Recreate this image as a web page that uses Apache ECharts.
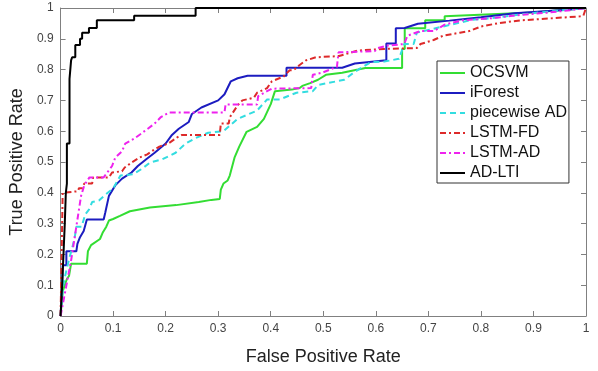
<!DOCTYPE html>
<html>
<head>
<meta charset="utf-8">
<script src="https://cdn.jsdelivr.net/npm/echarts@6/dist/echarts.min.js"></script>
<style>
  html, body { margin: 0; padding: 0; background: #fff; }
  #chart { width: 598px; height: 371px; }
</style>
</head>
<body>
<div id="chart"></div>
<script>
// ROC curves, [fpr, tpr] corners
const seriesNames = ['OCSVM', 'iForest', 'piecewise AD', 'LSTM-FD', 'LSTM-AD', 'AD-LTI'];
const axisTicks = [0, 0.1, 0.2, 0.3, 0.4, 0.5, 0.6, 0.7, 0.8, 0.9, 1];

const ocsvm = [[0,0],[0.004,0.08],[0.012,0.12],[0.016,0.13],[0.02,0.17],[0.05,0.17],[0.052,0.21],[0.058,0.23],[0.075,0.25],[0.08,0.27],[0.087,0.29],[0.092,0.31],[0.1,0.315],[0.113,0.325],[0.132,0.34],[0.17,0.352],[0.22,0.36],[0.263,0.37],[0.287,0.377],[0.303,0.38],[0.305,0.41],[0.31,0.43],[0.318,0.44],[0.322,0.456],[0.331,0.514],[0.34,0.55],[0.354,0.598],[0.374,0.614],[0.387,0.64],[0.40,0.688],[0.408,0.73],[0.44,0.735],[0.455,0.74],[0.46,0.747],[0.475,0.756],[0.49,0.767],[0.505,0.783],[0.536,0.79],[0.566,0.80],[0.58,0.805],[0.65,0.805],[0.65,0.867],[0.655,0.867],[0.655,0.934],[0.694,0.934],[0.694,0.96],[0.731,0.96],[0.731,0.973],[0.899,0.985],[1,1]];

const iforest = [[0,0],[0.003,0.1],[0.004,0.165],[0.011,0.165],[0.011,0.21],[0.03,0.21],[0.032,0.234],[0.037,0.256],[0.044,0.276],[0.05,0.313],[0.082,0.313],[0.085,0.335],[0.092,0.39],[0.104,0.424],[0.117,0.446],[0.135,0.466],[0.147,0.487],[0.163,0.509],[0.179,0.53],[0.2,0.56],[0.212,0.588],[0.225,0.608],[0.244,0.63],[0.25,0.656],[0.268,0.677],[0.3,0.7],[0.312,0.72],[0.324,0.762],[0.337,0.772],[0.356,0.78],[0.43,0.78],[0.43,0.806],[0.536,0.806],[0.56,0.82],[0.62,0.83],[0.62,0.885],[0.638,0.885],[0.638,0.934],[0.655,0.935],[0.68,0.949],[0.74,0.959],[0.80,0.97],[0.864,0.983],[0.964,0.994],[1,1]];

const piecewise = [[0,0],[0.005,0.1],[0.01,0.14],[0.017,0.19],[0.022,0.22],[0.027,0.256],[0.03,0.29],[0.04,0.29],[0.047,0.33],[0.054,0.345],[0.06,0.37],[0.073,0.375],[0.086,0.395],[0.1,0.414],[0.114,0.456],[0.138,0.46],[0.154,0.477],[0.17,0.498],[0.194,0.509],[0.219,0.53],[0.238,0.56],[0.256,0.577],[0.281,0.595],[0.31,0.6],[0.337,0.64],[0.374,0.667],[0.393,0.703],[0.417,0.703],[0.449,0.725],[0.48,0.73],[0.49,0.75],[0.54,0.767],[0.56,0.793],[0.59,0.824],[0.616,0.826],[0.644,0.835],[0.654,0.883],[0.672,0.883],[0.678,0.92],[0.728,0.94],[0.784,0.962],[0.821,0.967],[0.896,0.983],[1,1]];

const lstmFd = [[0,0],[0.002,0.2],[0.004,0.4],[0.033,0.405],[0.035,0.415],[0.042,0.415],[0.045,0.43],[0.06,0.43],[0.062,0.45],[0.092,0.45],[0.098,0.466],[0.117,0.47],[0.122,0.482],[0.135,0.498],[0.15,0.514],[0.165,0.525],[0.178,0.54],[0.188,0.55],[0.205,0.56],[0.222,0.58],[0.231,0.588],[0.303,0.588],[0.305,0.625],[0.32,0.625],[0.322,0.645],[0.337,0.684],[0.346,0.70],[0.368,0.709],[0.374,0.725],[0.393,0.74],[0.402,0.762],[0.424,0.777],[0.436,0.798],[0.443,0.798],[0.455,0.815],[0.467,0.83],[0.486,0.84],[0.53,0.844],[0.566,0.862],[0.616,0.867],[0.678,0.87],[0.685,0.883],[0.71,0.896],[0.728,0.91],[0.76,0.92],[0.778,0.925],[0.80,0.94],[0.834,0.951],[0.877,0.96],[0.939,0.967],[0.989,0.973],[0.995,0.975],[1,1]];

const lstmAd = [[0,0],[0.02,0.18],[0.039,0.39],[0.045,0.424],[0.055,0.45],[0.082,0.45],[0.089,0.466],[0.098,0.487],[0.104,0.514],[0.117,0.535],[0.123,0.56],[0.141,0.577],[0.154,0.593],[0.166,0.608],[0.179,0.625],[0.191,0.646],[0.207,0.661],[0.312,0.661],[0.314,0.687],[0.374,0.687],[0.376,0.714],[0.393,0.73],[0.402,0.738],[0.477,0.74],[0.48,0.783],[0.498,0.79],[0.526,0.809],[0.529,0.856],[0.598,0.86],[0.604,0.87],[0.622,0.878],[0.654,0.883],[0.66,0.91],[0.685,0.925],[0.71,0.925],[0.731,0.946],[0.765,0.96],[0.821,0.967],[0.877,0.978],[0.927,0.985],[0.976,0.994],[1,1]];

const adLti = [[0,0],[0.003,0.1],[0.005,0.18],[0.008,0.3],[0.01,0.4],[0.012,0.43],[0.012,0.56],[0.017,0.56],[0.017,0.77],[0.02,0.77],[0.02,0.83],[0.022,0.84],[0.028,0.84],[0.028,0.88],[0.037,0.88],[0.037,0.9],[0.041,0.9],[0.041,0.92],[0.054,0.92],[0.054,0.935],[0.069,0.935],[0.069,0.96],[0.14,0.96],[0.14,0.975],[0.257,0.975],[0.257,1],[1,1]];

const curves = [ocsvm, iforest, piecewise, lstmFd, lstmAd, adLti];
const colors = ['#33dd33', '#1c1cc0', '#33dde0', '#dd2a2a', '#ee22ee', '#000000'];
const dashes = ['solid', 'solid', [6, 4], [6, 3, 2, 3], [6, 3, 2, 3], 'solid'];

const font = '"Liberation Sans", Arial, sans-serif';
const frame = '#808080';

function axis(pos, showLabel) {
  return {
    type: 'value', position: pos, min: 0, max: 1, interval: 0.1,
    axisLine: { show: true, onZero: false, lineStyle: { color: frame, width: 1 } },
    axisTick: { show: true, inside: true, length: 5, lineStyle: { color: frame } },
    splitLine: { show: false },
    axisLabel: {
      show: showLabel, color: '#444', fontSize: 12, fontFamily: font, margin: 7,
      formatter: v => axisTicks.includes(+v.toFixed(1)) ? String(+v.toFixed(1)) : ''
    }
  };
}

const myChart = echarts.init(document.getElementById('chart'), null, { renderer: 'canvas' });

const option = {
  animation: false,
  backgroundColor: '#fff',
  grid: { left: 49, right: 12, top: 8, bottom: 47, containLabel: false },
  xAxis: [
    Object.assign(axis('bottom', true), {
      name: 'False Positive Rate', nameLocation: 'middle', nameGap: 32,
      nameTextStyle: { color: '#222', fontSize: 18, fontFamily: font }
    }),
    axis('top', false)
  ],
  yAxis: [
    Object.assign(axis('left', true), {
      name: 'True Positive Rate', nameLocation: 'middle', nameGap: 28,
      nameTextStyle: { color: '#222', fontSize: 18, fontFamily: font }
    }),
    axis('right', false)
  ],
  legend: {
    orient: 'vertical', left: 437, top: 61,
    data: seriesNames,
    itemWidth: 25, itemHeight: 14, itemGap: 0,
    padding: [2, 2, 0, 2],
    borderColor: '#333', borderWidth: 1, backgroundColor: '#fff',
    // hide the circle marker, keep only the line sample
    itemStyle: { opacity: 0, color: 'transparent', borderWidth: 0 },
    textStyle: { color: '#111', fontSize: 16, fontFamily: font, lineHeight: 20 }
  },
  series: curves.map((d, i) => ({
    name: seriesNames[i],
    type: 'line',
    data: d,
    symbol: 'none',
    clip: false,
    color: colors[i],
    lineStyle: { color: colors[i], width: 2, type: dashes[i] }
  }))
};
myChart.setOption(option);
</script>
</body>
</html>
